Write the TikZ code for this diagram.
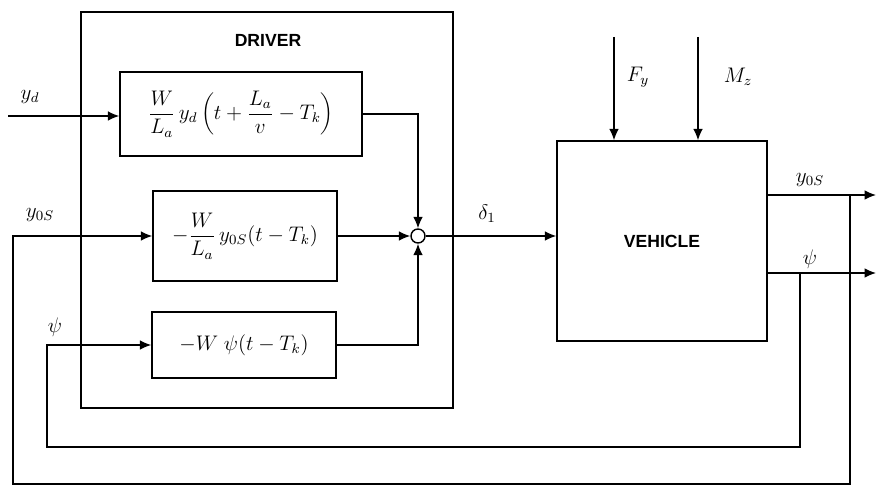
\documentclass[tikz,border=0pt]{standalone}
\usepackage{fontspec}
\setmainfont{Liberation Sans}
\usetikzlibrary{arrows.meta}

\begin{document}
\begin{tikzpicture}[
    x=0.02cm, y=-0.02cm,
    >={Latex[length=6.5pt,width=5.5pt]},
    line width=0.8pt,
    blk/.style={draw,inner sep=0pt,font=\large},
    sig/.style={->},
    lbl/.style={font=\large},
]
\useasboundingbox (0,0) rectangle (876,486);

% Driver frame
\node[draw,minimum width=7.44cm,minimum height=7.92cm] (driver) at (267,210) {};
\node[font=\bfseries] (drvlbl) at (268,40) {DRIVER};

% Driver blocks
\node[blk,minimum width=4.84cm,minimum height=1.68cm] (b1) at (241,114)
    {$\displaystyle \frac{W}{L_a}\,y_d\left(t+\frac{L_a}{v}-T_k\right)$};
\node[blk,minimum width=3.68cm,minimum height=1.8cm] (b2) at (245,236)
    {$\displaystyle -\frac{W}{L_a}\,y_{0S}(t-T_k)$};
\node[blk,minimum width=3.68cm,minimum height=1.32cm] (b3) at (244,345)
    {$-W\;\psi(t-T_k)$};

% Summing point
\node[draw,circle,inner sep=0pt,minimum size=0.28cm] (sum) at (418,236) {};

% Vehicle
\node[draw,minimum width=4.2cm,minimum height=4cm,font=\bfseries] (veh) at (662,241) {VEHICLE};

% Inputs
\coordinate (yd) at (8,116);
\coordinate (fy) at (614,37);
\coordinate (mz) at (698,37);
\draw[sig] (yd) -- (yd -| b1.west);
\node[lbl] (ydlbl) at (30,97) {$y_d$};
\draw[sig] (fy) -- (fy |- veh.north);
\draw[sig] (mz) -- (mz |- veh.north);
\node[lbl] (fylbl) at (638,77) {$F_y$};
\node[lbl] (mzlbl) at (738,77) {$M_z$};

% Into the summing point
\draw[sig] (b1.east) -| (sum.north);
\draw[sig] (b2.east) -- (sum.west);
\draw[sig] (b3.east) -| (sum.south);
\draw[sig] (sum.east) -- (sum.east -| veh.west)
    node[lbl,pos=0.47,above=4pt] (d1lbl) {$\delta_1$};

% Outputs
\coordinate (out1) at (876,195);
\coordinate (out2) at (876,273);
\coordinate (tap1) at (850,195);
\coordinate (tap2) at (800,273);
\draw[sig] (veh.east |- out1) -- (out1);
\draw[sig] (veh.east |- out2) -- (out2);
\node[lbl] (y0lbl) at (810,180) {$y_{0S}$};
\node[lbl] (psilbl) at (810,259) {$\psi$};

% Feedback loops
\coordinate (c1) at (13,484);
\coordinate (c2) at (47,447);
\draw[sig] (tap1) |- (c1) |- (b2.west);
\draw[sig] (tap2) |- (c2) |- (b3.west);
\node[lbl] (y0in) at (40,215) {$y_{0S}$};
\node[lbl] (psiin) at (55,327) {$\psi$};
\end{tikzpicture}
\end{document}
